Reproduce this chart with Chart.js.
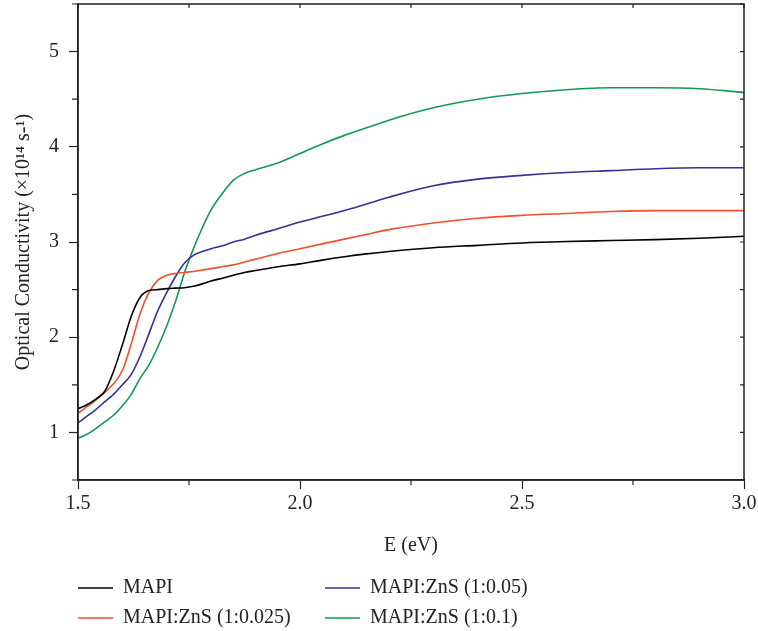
<!DOCTYPE html>
<html>
<head>
<meta charset="utf-8">
<script src="https://cdn.jsdelivr.net/npm/chart.js@4/dist/chart.umd.min.js"></script>
<style>
  html, body { margin: 0; padding: 0; background: #fff; }
  #wrap { width: 758px; height: 631px; }
</style>
</head>
<body>
<div id="wrap"><canvas id="c" width="758" height="631"></canvas></div>
<script>
// Photon energy (eV)
const energy = [1.50, 1.52, 1.54, 1.56, 1.58, 1.60, 1.62, 1.64, 1.66, 1.68, 1.70, 1.72, 1.74, 1.76, 1.78, 1.80,
  1.825, 1.85, 1.875, 1.90, 1.95, 2.00, 2.05, 2.10, 2.15, 2.20, 2.30, 2.40, 2.50, 2.60, 2.70, 2.80, 2.90, 3.00];

// Optical conductivity (x10^14 s^-1)
const mapi = [1.25, 1.29, 1.35, 1.43, 1.64, 1.92, 2.22, 2.42, 2.49, 2.50, 2.51, 2.515, 2.52, 2.535, 2.56, 2.59,
  2.62, 2.65, 2.68, 2.70, 2.74, 2.77, 2.81, 2.845, 2.875, 2.90, 2.94, 2.965, 2.99, 3.005, 3.015, 3.025, 3.04, 3.06];
const zns025 = [1.20, 1.27, 1.34, 1.42, 1.51, 1.65, 1.93, 2.25, 2.47, 2.60, 2.65, 2.67, 2.68, 2.69, 2.705, 2.72,
  2.74, 2.76, 2.79, 2.82, 2.88, 2.93, 2.98, 3.03, 3.08, 3.13, 3.20, 3.25, 3.28, 3.30, 3.32, 3.33, 3.33, 3.33];
const zns05 = [1.10, 1.17, 1.24, 1.32, 1.40, 1.50, 1.61, 1.80, 2.04, 2.28, 2.47, 2.64, 2.78, 2.86, 2.90, 2.93,
  2.96, 3.00, 3.03, 3.07, 3.14, 3.21, 3.27, 3.33, 3.40, 3.47, 3.59, 3.66, 3.70, 3.73, 3.75, 3.77, 3.78, 3.78];
const zns1 = [0.94, 0.98, 1.04, 1.11, 1.18, 1.28, 1.40, 1.57, 1.71, 1.90, 2.12, 2.38, 2.68, 2.93, 3.15, 3.34,
  3.51, 3.65, 3.72, 3.76, 3.83, 3.93, 4.03, 4.12, 4.20, 4.28, 4.41, 4.50, 4.56, 4.60, 4.62, 4.62, 4.61, 4.57];

const seriesNames = ['MAPI', 'MAPI:ZnS (1:0.025)', 'MAPI:ZnS (1:0.05)', 'MAPI:ZnS (1:0.1)'];
const seriesValues = [mapi, zns025, zns05, zns1];
const seriesColors = ['#000000', '#f0502a', '#3b2f96', '#119a55'];

const FONT = 'Liberation Serif, Times New Roman, serif';
const INK = '#222';

const isMultiple = (v, step) => Math.abs(v / step - Math.round(v / step)) < 1e-6;

// Frame on all four sides, short minor ticks outside, small ticks inside top/right
const framePlugin = {
  id: 'frame',
  afterDraw(chart) {
    const { ctx, chartArea: a, scales: { x, y } } = chart;
    ctx.save();
    ctx.strokeStyle = INK;
    ctx.lineWidth = 1.5;
    ctx.strokeRect(a.left, a.top, a.right - a.left, a.bottom - a.top);
    ctx.lineWidth = 1.2;
    ctx.beginPath();
    x.ticks.forEach(t => {
      const px = x.getPixelForValue(t.value);
      if (!isMultiple(t.value, 0.5)) { ctx.moveTo(px, a.bottom); ctx.lineTo(px, a.bottom + 5); }
      ctx.moveTo(px, a.top); ctx.lineTo(px, a.top + 4);
    });
    y.ticks.forEach(t => {
      const py = y.getPixelForValue(t.value);
      if (!isMultiple(t.value, 1)) { ctx.moveTo(a.left, py); ctx.lineTo(a.left - 6, py); }
      ctx.moveTo(a.right, py); ctx.lineTo(a.right - 4, py);
    });
    ctx.stroke();
    ctx.restore();
  }
};

// Two-column legend filled down each column
const legendPlugin = {
  id: 'colLegend',
  afterDraw(chart) {
    const { ctx } = chart;
    const cols = [78, 325];
    const rows = [588, 618];
    ctx.save();
    ctx.font = '20px ' + FONT;
    ctx.textBaseline = 'middle';
    chart.data.datasets.forEach((ds, i) => {
      const cx = cols[Math.floor(i / 2)];
      const cy = rows[i % 2];
      ctx.strokeStyle = ds.borderColor;
      ctx.lineWidth = 1.5;
      ctx.beginPath();
      ctx.moveTo(cx, cy);
      ctx.lineTo(cx + 35, cy);
      ctx.stroke();
      ctx.fillStyle = INK;
      ctx.fillText(ds.label, cx + 45, cy);
    });
    ctx.restore();
  }
};

new Chart(document.getElementById('c'), {
  type: 'line',
  data: {
    datasets: seriesNames.map((name, i) => ({
      label: name,
      data: energy.map((e, k) => ({ x: e, y: seriesValues[i][k] })),
      borderColor: seriesColors[i],
      backgroundColor: seriesColors[i],
      borderWidth: 1.6,
      pointRadius: 0,
      fill: false,
      cubicInterpolationMode: 'monotone'
    }))
  },
  options: {
    responsive: false,
    animation: false,
    layout: { padding: { left: 0, right: 14, top: 4, bottom: 71 } },
    plugins: { legend: { display: false }, tooltip: { enabled: false } },
    scales: {
      x: {
        type: 'linear',
        min: 1.5,
        max: 3.0,
        afterFit: s => { s.height = 80; s.paddingRight = 0; s.paddingLeft = 0; },
        border: { display: true, color: INK, width: 1.5 },
        grid: {
          drawOnChartArea: false,
          drawTicks: true,
          tickLength: 9,
          tickWidth: 1.2,
          tickColor: c => (c.tick && isMultiple(c.tick.value, 0.5)) ? INK : 'rgba(0,0,0,0)'
        },
        ticks: {
          stepSize: 0.25,
          autoSkip: false,
          maxRotation: 0,
          padding: 3,
          color: INK,
          font: { family: FONT, size: 20 },
          callback: v => isMultiple(v, 0.5) ? v.toFixed(1) : ''
        },
        title: {
          display: true,
          text: 'E (eV)',
          color: INK,
          font: { family: FONT, size: 20 },
          padding: { top: 0, bottom: 2 }
        }
      },
      y: {
        type: 'linear',
        min: 0.5,
        max: 5.5,
        afterFit: s => { s.width = 78; s.paddingTop = 0; s.paddingBottom = 0; },
        border: { display: true, color: INK, width: 1.5 },
        grid: {
          drawOnChartArea: false,
          drawTicks: true,
          tickLength: 9,
          tickWidth: 1.2,
          tickColor: c => (c.tick && isMultiple(c.tick.value, 1)) ? INK : 'rgba(0,0,0,0)'
        },
        ticks: {
          stepSize: 0.5,
          autoSkip: false,
          padding: 10,
          color: INK,
          font: { family: FONT, size: 20 },
          callback: v => (isMultiple(v, 1) && v > 0.9 && v < 5.1) ? String(v) : ''
        },
        title: {
          display: true,
          text: 'Optical Conductivity (×10¹⁴ s-¹)',
          color: INK,
          font: { family: FONT, size: 20 },
          padding: { top: 12, bottom: 0 }
        }
      }
    }
  },
  plugins: [framePlugin, legendPlugin]
});
</script>
</body>
</html>
